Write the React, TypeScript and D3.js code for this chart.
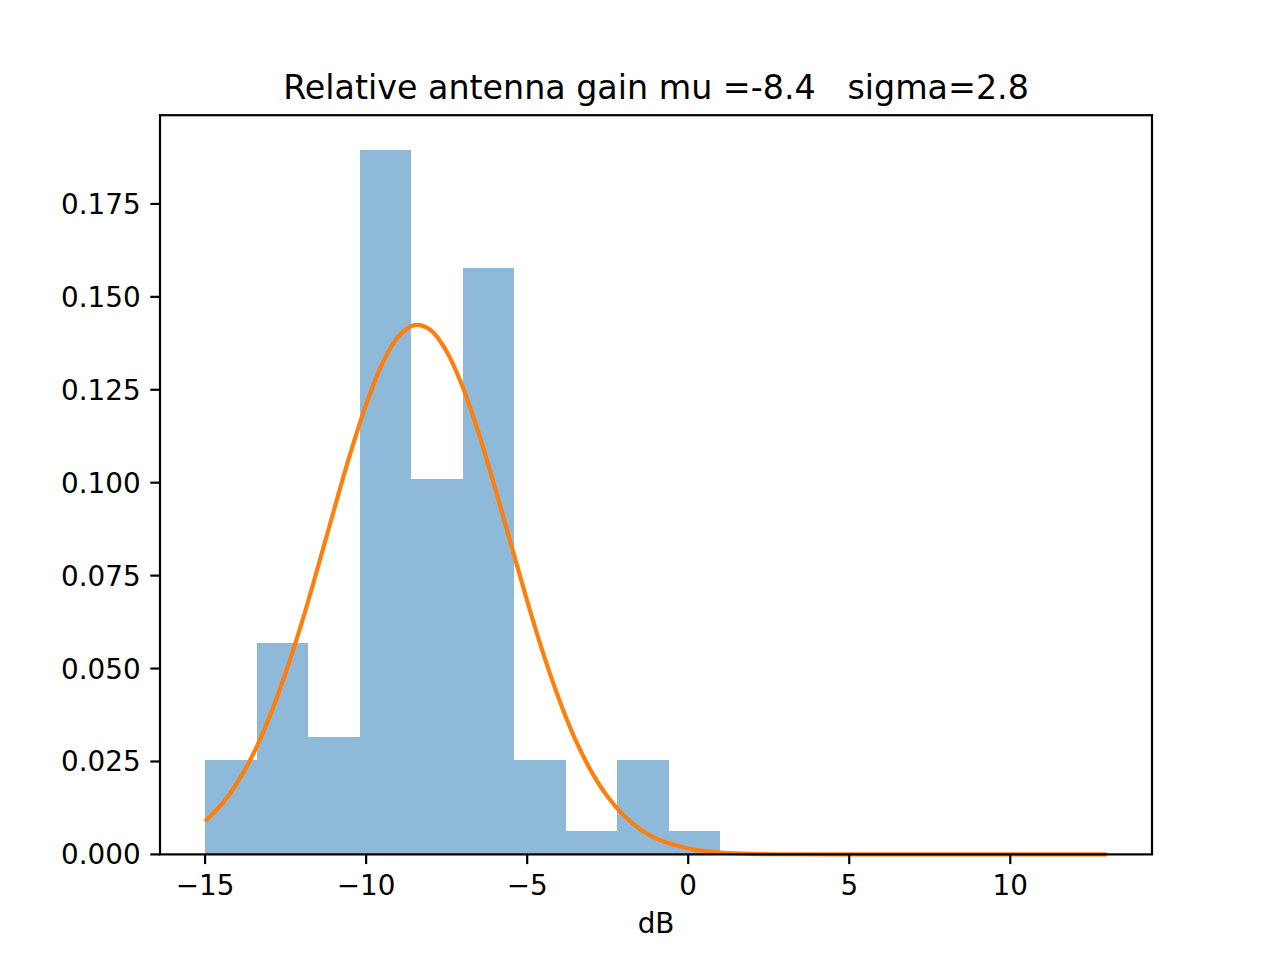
import * as d3 from 'd3';

// histogram (density), bin edges in dB
const binEdges = [-15, -13.4, -11.8, -10.2, -8.6, -7, -5.4, -3.8, -2.2, -0.6, 1];
const density = [0.0253, 0.0568, 0.0316, 0.1894, 0.101, 0.1578, 0.0253, 0.0063, 0.0253, 0.0063];

// fitted curve
const fitX = [-15, -14.5, -14, -13.5, -13, -12.5, -12, -11.5, -11, -10.5, -10, -9.5, -9, -8.5, -8, -7.5, -7, -6.5, -6, -5.5, -5, -4.5, -4, -3.5, -3, -2.5, -2, -1.5, -1, -0.5, 0, 0.5, 1, 2, 3, 5, 13];
const fitY = [0.0089, 0.0133, 0.0193, 0.0271, 0.037, 0.0488, 0.0623, 0.0772, 0.0926, 0.1076, 0.121, 0.132, 0.1393, 0.1424, 0.1411, 0.1353, 0.1257, 0.1132, 0.0987, 0.0834, 0.0682, 0.054, 0.0415, 0.0308, 0.0222, 0.0155, 0.0105, 0.0068, 0.0043, 0.0027, 0.0016, 0.0009, 0.0005, 0.00014, 0.00003, 0, 0];

const xTicks = [-15, -10, -5, 0, 5, 10];
const yTicks = [0, 0.025, 0.05, 0.075, 0.1, 0.125, 0.15, 0.175];

const title = 'Relative antenna gain mu =-8.4   sigma=2.8';
const xLabel = 'dB';

const W = 1280, H = 960;
const left = 160, right = 1152, top = 115.2, bottom = 854.4;
const FONT = '"DejaVu Sans", sans-serif';
const tick = 9.7, pad = 9.7;

export default function App() {
  const x = d3.scaleLinear().domain([-16.4, 14.4]).range([left, right]);
  const y = d3.scaleLinear().domain([0, 0.19887]).range([bottom, top]);

  const line = d3
    .line<number>()
    .x((_, i) => x(fitX[i]))
    .y((d) => y(d))
    .curve(d3.curveCatmullRom.alpha(0.5));

  const fmtX = (v: number) => (v < 0 ? '\u2212' + Math.abs(v) : String(v));

  return (
    <svg width={W} height={H} style={{ position: 'absolute', left: 0, top: 0, background: '#fff' }} fontFamily={FONT}>
      <rect x={0} y={0} width={W} height={H} fill="#fff" />
      <g shapeRendering="crispEdges">
        {density.map((d, i) => (
          <rect
            key={i}
            x={x(binEdges[i])}
            y={y(d)}
            width={x(binEdges[i + 1]) - x(binEdges[i])}
            height={y(0) - y(d)}
            fill="#8fb9d9"
          />
        ))}
      </g>
      <path d={line(fitY) ?? ''} fill="none" stroke="#ff7f0e" strokeWidth={4.17} strokeLinejoin="round" strokeLinecap="butt" />

      <rect x={left} y={top} width={right - left} height={bottom - top} fill="none" stroke="#000" strokeWidth={2.2} />

      {xTicks.map((t) => (
        <g key={t} transform={`translate(${x(t)},${bottom})`}>
          <line y1={0} y2={tick} stroke="#000" strokeWidth={2.2} />
          <text y={tick + pad + 21} textAnchor="middle" fontSize={27.8} fill="#000">
            {fmtX(t)}
          </text>
        </g>
      ))}
      {yTicks.map((t) => (
        <g key={t} transform={`translate(${left},${y(t)})`}>
          <line x1={0} x2={-tick} stroke="#000" strokeWidth={2.2} />
          <text x={-tick - pad} y={10} textAnchor="end" fontSize={27.8} fill="#000">
            {t.toFixed(3)}
          </text>
        </g>
      ))}

      <text x={(left + right) / 2} y={933} textAnchor="middle" fontSize={27.8} fill="#000">
        {xLabel}
      </text>
      <text x={(left + right) / 2} y={99} textAnchor="middle" fontSize={33.3} fill="#000" style={{ whiteSpace: 'pre' }}>
        {title}
      </text>
    </svg>
  );
}
